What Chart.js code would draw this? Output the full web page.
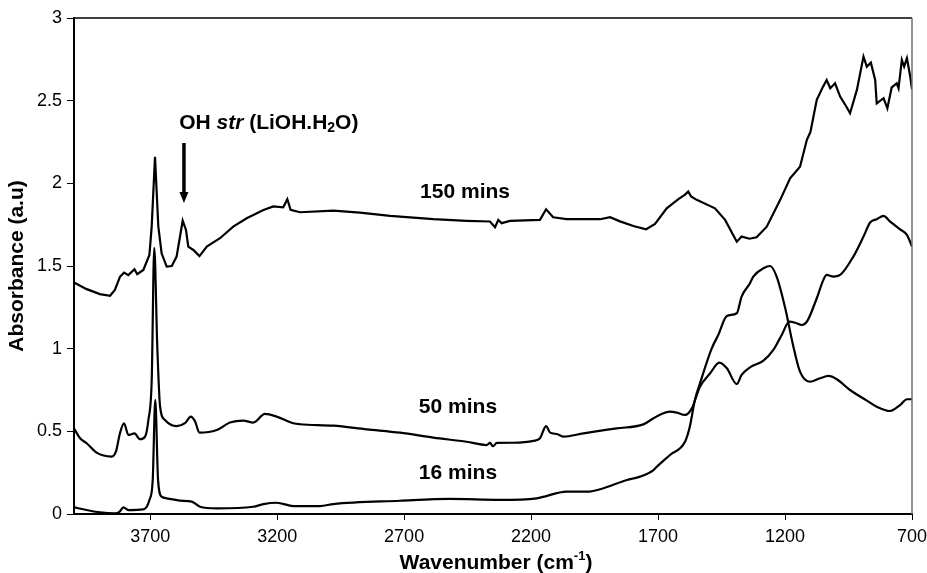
<!DOCTYPE html>
<html>
<head>
<meta charset="utf-8">
<script src="https://cdn.jsdelivr.net/npm/chart.js@4.4.1/dist/chart.umd.min.js"></script>
<style>
  html, body { margin: 0; padding: 0; background: #fff; }
  #wrap { width: 927px; height: 573px; }
</style>
</head>
<body>
<div id="wrap"><canvas id="chart" width="927" height="573"></canvas></div>
<script>
// tick labels
const xTicks = [3700, 3200, 2700, 2200, 1700, 1200, 700];
const yTicks = [0, 0.5, 1, 1.5, 2, 2.5, 3];

// 16 mins
const wn16 = [4000, 3950, 3898, 3839, 3820, 3806, 3786, 3727, 3703, 3690, 3680, 3669, 3655, 3635, 3583, 3536, 3504, 3438,
  3294, 3254, 3202, 3136, 3031, 2979, 2716, 2519, 2322, 2178, 2060, 1981, 1928, 1823, 1771, 1718, 1705, 1653, 1594, 1575,
  1555, 1535, 1489, 1463, 1429, 1390, 1371, 1338, 1325, 1285, 1259, 1233, 1200, 1167, 1141, 1102, 1062, 1029, 996, 944,
  878, 839, 786, 747, 720, 700];
const abs16 = [0.04, 0.024, 0.01, 0.004, 0.015, 0.04, 0.024, 0.028, 0.085, 0.206, 0.69, 0.206, 0.105, 0.095, 0.081, 0.075, 0.044, 0.034,
  0.044, 0.06, 0.068, 0.048, 0.048, 0.06, 0.08, 0.091, 0.085, 0.095, 0.135, 0.135, 0.15, 0.206, 0.226, 0.266, 0.286, 0.357, 0.437, 0.528,
  0.69, 0.79, 1.0, 1.083, 1.198, 1.214, 1.315, 1.396, 1.436, 1.486, 1.5, 1.436, 1.25, 1.012, 0.861, 0.8, 0.821, 0.835, 0.815, 0.75,
  0.686, 0.649, 0.623, 0.659, 0.694, 0.694];

// 50 mins
const wn50 = [4000, 3976, 3950, 3911, 3852, 3835, 3819, 3803, 3786, 3762, 3740, 3720, 3707, 3694, 3684, 3672, 3661, 3642, 3596,
  3563, 3540, 3523, 3506, 3438, 3386, 3333, 3294, 3248, 3202, 3136, 3110, 2979, 2847, 2716, 2585, 2454, 2375, 2362, 2350, 2335,
  2270, 2191, 2165, 2141, 2125, 2099, 2073, 1994, 1863, 1758, 1718, 1686, 1653, 1626, 1594, 1567, 1535, 1495, 1459, 1429, 1390,
  1371, 1338, 1285, 1246, 1213, 1183, 1160, 1134, 1114, 1075, 1049, 1036, 1010, 983, 931, 891, 865, 839, 812, 786, 747, 720, 700];
const abs50 = [0.518, 0.458, 0.428, 0.371, 0.347, 0.377, 0.488, 0.549, 0.478, 0.488, 0.452, 0.468, 0.569, 0.81, 1.61, 1.012, 0.649, 0.569, 0.532,
  0.549, 0.589, 0.559, 0.492, 0.508, 0.553, 0.565, 0.553, 0.605, 0.589, 0.549, 0.543, 0.534, 0.512, 0.492, 0.462, 0.437, 0.417, 0.43, 0.41, 0.43,
  0.431, 0.442, 0.458, 0.532, 0.492, 0.484, 0.468, 0.488, 0.518, 0.542, 0.579, 0.605, 0.619, 0.613, 0.599, 0.639, 0.77, 0.851, 0.915, 0.881, 0.786,
  0.841, 0.887, 0.927, 0.992, 1.083, 1.163, 1.157, 1.143, 1.163, 1.305, 1.416, 1.446, 1.436, 1.446, 1.557, 1.678, 1.763, 1.783, 1.803, 1.769, 1.722, 1.688, 1.617];

// 150 mins
const wn150 = [4000, 3950, 3898, 3858, 3839, 3819, 3803, 3786, 3762, 3751, 3727, 3703, 3694, 3681, 3668, 3655, 3635, 3615, 3596,
  3572, 3559, 3550, 3530, 3506, 3477, 3425, 3373, 3320, 3254, 3215, 3176, 3160, 3147, 3110, 2979, 2874, 2755, 2585, 2454, 2362,
  2342, 2329, 2316, 2283, 2165, 2141, 2113, 2060, 1928, 1889, 1850, 1797, 1747, 1712, 1666, 1620, 1595, 1581, 1570, 1548, 1476,
  1436, 1390, 1371, 1340, 1312, 1272, 1219, 1180, 1141, 1114, 1100, 1088, 1075, 1052, 1036, 1022, 1003, 983, 957, 944, 917, 891,
  878, 862, 845, 839, 812, 797, 780, 760, 753, 740, 731, 720, 707, 700];
const abs150 = [1.40, 1.36, 1.33, 1.32, 1.355, 1.435, 1.46, 1.445, 1.48, 1.45, 1.476, 1.567, 1.74, 2.16, 1.74, 1.577, 1.496, 1.50, 1.557,
  1.774, 1.718, 1.617, 1.597, 1.56, 1.617, 1.668, 1.738, 1.789, 1.839, 1.86, 1.855, 1.904, 1.84, 1.825, 1.835, 1.823, 1.803, 1.783, 1.773, 1.769,
  1.735, 1.779, 1.759, 1.773, 1.779, 1.843, 1.795, 1.783, 1.783, 1.795, 1.77, 1.742, 1.722, 1.754, 1.849, 1.904, 1.93, 1.95, 1.92, 1.90, 1.849,
  1.779, 1.647, 1.678, 1.665, 1.674, 1.738, 1.90, 2.03, 2.10, 2.263, 2.31, 2.404, 2.505, 2.58, 2.625, 2.575, 2.605, 2.525, 2.46, 2.424, 2.565, 2.767,
  2.706, 2.73, 2.625, 2.484, 2.515, 2.454, 2.58, 2.605, 2.575, 2.746, 2.706, 2.757, 2.646, 2.569];

const curveLabels = [
  { text: '150 mins', wn: 2460, abs: 1.948 },
  { text: '50 mins', wn: 2488, abs: 0.647 },
  { text: '16 mins', wn: 2488, abs: 0.248 }
];

const FONT = '"Liberation Sans", Arial, sans-serif';

function toPoints(xs, ys) {
  return xs.map((v, i) => ({ x: v, y: ys[i] }));
}

// draws text pieces one after another (for italic / sub / superscript)
function drawRuns(ctx, runs, x, y, align) {
  let total = 0;
  runs.forEach(r => { ctx.font = r.font; total += ctx.measureText(r.t).width; });
  let cx = align === 'center' ? x - total / 2 : x;
  ctx.textAlign = 'left';
  ctx.textBaseline = 'middle';
  runs.forEach(r => {
    ctx.font = r.font;
    ctx.fillText(r.t, cx, y + (r.dy || 0));
    cx += ctx.measureText(r.t).width;
  });
}

const extras = {
  id: 'extras',
  afterDraw(chart) {
    const { ctx, chartArea: a, scales: { x, y } } = chart;
    ctx.save();
    ctx.lineWidth = 1.5;
    ctx.strokeStyle = '#000';
    ctx.beginPath(); ctx.moveTo(a.left, a.top); ctx.lineTo(a.right, a.top); ctx.stroke();
    ctx.strokeStyle = '#6e6e6e';
    ctx.beginPath(); ctx.moveTo(a.right, a.top); ctx.lineTo(a.right, a.bottom); ctx.stroke();

    ctx.fillStyle = '#000';
    ctx.strokeStyle = '#000';
    const b = 'bold 21px ' + FONT;
    curveLabels.forEach(l => {
      drawRuns(ctx, [{ t: l.text, font: b }], x.getPixelForValue(l.wn), y.getPixelForValue(l.abs), 'center');
    });

    drawRuns(ctx, [
      { t: 'OH ', font: b },
      { t: 'str', font: 'italic bold 21px ' + FONT },
      { t: ' (LiOH.H', font: b },
      { t: '2', font: 'bold 14px ' + FONT, dy: 5 },
      { t: 'O)', font: b }
    ], x.getPixelForValue(3586), y.getPixelForValue(2.365), 'left');

    // arrow
    const ax = x.getPixelForValue(3567);
    const y0 = y.getPixelForValue(2.244), y1 = y.getPixelForValue(1.881);
    ctx.lineWidth = 3.5;
    ctx.beginPath(); ctx.moveTo(ax, y0); ctx.lineTo(ax, y1 - 9); ctx.stroke();
    ctx.beginPath();
    ctx.moveTo(ax - 4.5, y1 - 11); ctx.lineTo(ax + 4.5, y1 - 11); ctx.lineTo(ax, y1); ctx.closePath();
    ctx.fill();

    // x axis title with superscript
    drawRuns(ctx, [
      { t: 'Wavenumber (cm', font: b },
      { t: '-1', font: 'bold 13px ' + FONT, dy: -7 },
      { t: ')', font: b }
    ], (a.left + a.right) / 2 + 3, 563, 'center');
    ctx.restore();
  }
};

const lineStyle = { borderColor: '#000', borderWidth: 2.2, pointRadius: 0, fill: false };

new Chart(document.getElementById('chart'), {
  type: 'line',
  data: {
    datasets: [
      { label: '16 mins', data: toPoints(wn16, abs16), ...lineStyle, cubicInterpolationMode: 'monotone' },
      { label: '50 mins', data: toPoints(wn50, abs50), ...lineStyle, cubicInterpolationMode: 'monotone' },
      { label: '150 mins', data: toPoints(wn150, abs150), ...lineStyle, tension: 0 }
    ]
  },
  options: {
    responsive: false,
    animation: false,
    layout: { padding: { top: 18, right: 15, left: 0, bottom: 0 } },
    plugins: { legend: { display: false }, tooltip: { enabled: false } },
    scales: {
      x: {
        type: 'linear',
        reverse: true,
        min: 700,
        max: 4000,
        afterBuildTicks: axis => { axis.ticks = xTicks.map(v => ({ value: v })); },
        afterFit: axis => { axis.height = 59; axis.paddingLeft = 0; axis.paddingRight = 0; },
        grid: { drawOnChartArea: false, drawTicks: true, tickLength: 6, color: '#000', lineWidth: 1 },
        border: { display: true, color: '#000', width: 2 },
        ticks: { color: '#000', padding: 6, maxRotation: 0, font: { family: FONT, size: 18 }, callback: v => String(v) }
      },
      y: {
        min: 0,
        max: 3,
        afterBuildTicks: axis => { axis.ticks = yTicks.map(v => ({ value: v })); },
        afterFit: axis => { axis.width = 74; axis.paddingTop = 0; axis.paddingBottom = 0; },
        grid: { drawOnChartArea: false, drawTicks: true, tickLength: 7, color: '#000', lineWidth: 1 },
        border: { display: true, color: '#000', width: 2 },
        ticks: { color: '#000', padding: 5, font: { family: FONT, size: 18 }, callback: v => String(v) },
        title: {
          display: true,
          text: 'Absorbance (a.u)',
          color: '#000',
          padding: { top: 5, bottom: 0 },
          font: { family: FONT, size: 21, weight: 'bold', lineHeight: 1.2 }
        }
      }
    }
  },
  plugins: [extras]
});
</script>
</body>
</html>
